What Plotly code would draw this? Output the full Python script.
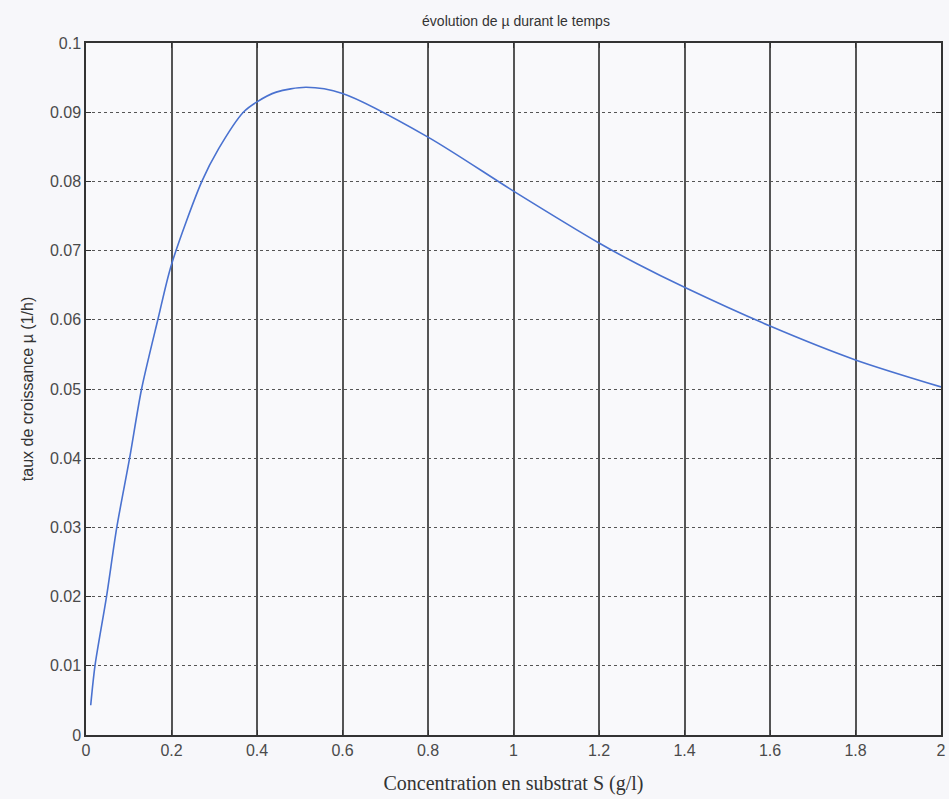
import plotly.graph_objects as go

# Data
S_values = [0.011, 0.021, 0.048, 0.072, 0.102, 0.130, 0.168, 0.200, 0.271, 0.310,
            0.368, 0.400, 0.445, 0.515, 0.600, 0.800, 1.000, 1.200,
            1.289, 1.400, 1.600, 1.800, 2.000]
mu_values = [0.0043, 0.0100, 0.0200, 0.0300, 0.0400, 0.0500, 0.0600, 0.0680, 0.0800, 0.0847,
             0.0900, 0.0915, 0.0929, 0.0936, 0.0927, 0.0864, 0.0786, 0.0711,
             0.0681, 0.0647, 0.0591, 0.0542, 0.0503]

x_tick_vals = [0, 0.2, 0.4, 0.6, 0.8, 1.0, 1.2, 1.4, 1.6, 1.8, 2.0]
x_tick_text = ["0", "0.2", "0.4", "0.6", "0.8", "1", "1.2", "1.4", "1.6", "1.8", "2"]
y_tick_vals = [0, 0.01, 0.02, 0.03, 0.04, 0.05, 0.06, 0.07, 0.08, 0.09, 0.1]
y_tick_text = ["0", "0.01", "0.02", "0.03", "0.04", "0.05", "0.06", "0.07", "0.08", "0.09", "0.1"]

title_text = "évolution de µ durant le temps"
x_label = "Concentration en substrat S (g/l)"
y_label = "taux de croissance µ (1/h)"

fig = go.Figure()
fig.add_trace(go.Scatter(
    x=S_values, y=mu_values, mode="lines",
    line=dict(color="#4a72d0", width=1.6, shape="spline", smoothing=0.8),
    showlegend=False, hoverinfo="x+y"))

tick_font = dict(family="Liberation Sans, Arial, sans-serif", size=16, color="#4a4a4a")

fig.update_layout(
    width=949, height=799,
    margin=dict(l=86, r=3, t=43, b=64),
    paper_bgcolor="#f7f7fa",
    plot_bgcolor="#f9f9fb",
    title=dict(text=title_text, x=(86 + 946) / 2 / 949, xanchor="center",
               y=1 - 21 / 799, yanchor="middle",
               font=dict(family="Liberation Sans, Arial", size=14, color="#333")),
    xaxis=dict(
        range=[0, 2], tickvals=x_tick_vals, ticktext=x_tick_text,
        showline=True, linecolor="#333", linewidth=1.5, mirror="ticks",
        ticks="inside", ticklen=5, tickcolor="#333",
        showgrid=True, gridcolor="#555", gridwidth=1.5,
        zeroline=False, tickfont=tick_font,
        title=dict(text=x_label, standoff=18,
                   font=dict(family="Liberation Serif, Times New Roman, serif", size=20, color="#333")),
    ),
    yaxis=dict(
        range=[0, 0.1], tickvals=y_tick_vals, ticktext=y_tick_text,
        showline=True, linecolor="#333", linewidth=1.5, mirror="ticks",
        ticks="inside", ticklen=5, tickcolor="#333",
        showgrid=True, gridcolor="#555", gridwidth=1.2, griddash="dot",
        zeroline=False, tickfont=tick_font,
        title=dict(text=y_label, standoff=12,
                   font=dict(family="Liberation Sans, Arial, sans-serif", size=16, color="#333")),
    ),
)

fig.write_html("out.html")
